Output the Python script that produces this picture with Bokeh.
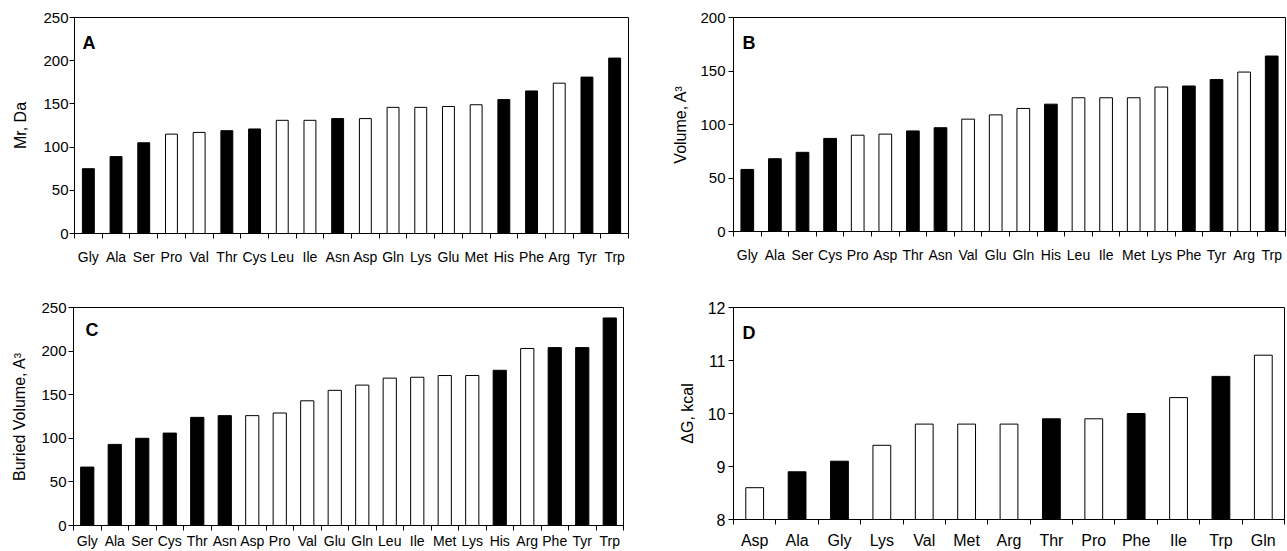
from bokeh.plotting import figure
from bokeh.models import Range1d, FixedTicker, ColumnDataSource, Label
from bokeh.layouts import column, row
from bokeh.embed import file_html
from bokeh.resources import INLINE

FONT = "Liberation Sans"

# Panel A: molecular mass
a_names = ["Gly", "Ala", "Ser", "Pro", "Val", "Thr", "Cys", "Leu", "Ile", "Asn",
           "Asp", "Gln", "Lys", "Glu", "Met", "His", "Phe", "Arg", "Tyr", "Trp"]
a_values = [75, 89, 105, 115, 117, 119, 121, 131, 131, 133,
            133, 146, 146, 147, 149, 155, 165, 174, 181, 203]
a_dark = [1, 1, 1, 0, 0, 1, 1, 0, 0, 1, 0, 0, 0, 0, 0, 1, 1, 0, 1, 1]

# Panel B: volume
b_names = ["Gly", "Ala", "Ser", "Cys", "Pro", "Asp", "Thr", "Asn", "Val", "Glu",
           "Gln", "His", "Leu", "Ile", "Met", "Lys", "Phe", "Tyr", "Arg", "Trp"]
b_values = [58, 68, 74, 87, 90, 91, 94, 97, 105, 109,
            115, 119, 125, 125, 125, 135, 136, 142, 149, 164]
b_dark = [1, 1, 1, 1, 0, 0, 1, 1, 0, 0, 0, 1, 0, 0, 0, 0, 1, 1, 0, 1]

# Panel C: buried volume
c_names = ["Gly", "Ala", "Ser", "Cys", "Thr", "Asn", "Asp", "Pro", "Val", "Glu",
           "Gln", "Leu", "Ile", "Met", "Lys", "His", "Arg", "Phe", "Tyr", "Trp"]
c_values = [67, 93, 100, 106, 124, 126, 126, 129, 143, 155,
            161, 169, 170, 172, 172, 178, 203, 204, 204, 238]
c_dark = [1, 1, 1, 1, 1, 1, 0, 0, 0, 0, 0, 0, 0, 0, 0, 1, 0, 1, 1, 1]

# Panel D: delta G
d_names = ["Asp", "Ala", "Gly", "Lys", "Val", "Met", "Arg", "Thr", "Pro", "Phe",
           "Ile", "Trp", "Gln"]
d_values = [8.6, 8.9, 9.1, 9.4, 9.8, 9.8, 9.8, 9.9, 9.9, 10.0, 10.3, 10.7, 11.1]
d_dark = [0, 1, 1, 0, 0, 0, 0, 1, 0, 1, 0, 1, 0]

a_yticks = [0, 50, 100, 150, 200, 250]
b_yticks = [0, 50, 100, 150, 200]
c_yticks = [0, 50, 100, 150, 200, 250]
d_yticks = [8, 9, 10, 11, 12]


def panel(names, values, dark, yticks, ylabel, letter, letter_pos, bar_w,
          width, height, borders, xfont, yfont, x_standoff, y_standoff,
          label_standoff):
    n = len(names)
    ylo, yhi = yticks[0], yticks[-1]
    p = figure(width=width, height=height,
               x_range=Range1d(0.5, n + 0.5), y_range=Range1d(ylo, yhi),
               output_backend="svg", toolbar_location=None,
               min_border_left=borders[0], min_border_right=borders[1],
               min_border_top=borders[2], min_border_bottom=borders[3])
    p.xgrid.visible = False
    p.ygrid.visible = False
    p.outline_line_color = "black"
    p.outline_line_width = 1
    p.background_fill_color = "white"
    p.border_fill_color = "white"

    src = ColumnDataSource(dict(
        x=list(range(1, n + 1)),
        top=values,
        color=["black" if d else "white" for d in dark],
    ))
    p.vbar(x="x", top="top", bottom=ylo, width=bar_w, fill_color="color",
           line_color="black", line_width=1, source=src)

    xa = p.xaxis[0]
    xa.ticker = FixedTicker(ticks=list(range(1, n + 1)),
                            minor_ticks=[i + 0.5 for i in range(n + 1)])
    xa.major_label_overrides = {i + 1: nm for i, nm in enumerate(names)}
    xa.major_tick_line_color = None
    xa.major_tick_out = 0
    xa.major_tick_in = 0
    xa.minor_tick_line_color = "black"
    xa.minor_tick_out = 5
    xa.minor_tick_in = 0
    xa.axis_line_color = "black"
    xa.major_label_text_font = FONT
    xa.major_label_text_font_size = xfont
    xa.major_label_text_color = "black"
    xa.major_label_standoff = x_standoff

    ya = p.yaxis[0]
    ya.ticker = FixedTicker(ticks=yticks, minor_ticks=[])
    ya.major_tick_line_color = "black"
    ya.major_tick_out = 5
    ya.major_tick_in = 0
    ya.minor_tick_line_color = None
    ya.axis_line_color = "black"
    ya.major_label_text_font = FONT
    ya.major_label_text_font_size = yfont
    ya.major_label_text_color = "black"
    ya.major_label_standoff = y_standoff
    ya.axis_label = ylabel
    ya.axis_label_text_font = FONT
    ya.axis_label_text_font_size = "16px"
    ya.axis_label_text_font_style = "normal"
    ya.axis_label_text_color = "black"
    ya.axis_label_standoff = label_standoff

    p.add_layout(Label(x=letter_pos[0], y=letter_pos[1], text=letter,
                       text_font=FONT, text_font_size="18px",
                       text_font_style="bold", text_color="black",
                       text_align="left", text_baseline="middle"))
    return p


pa = panel(a_names, a_values, a_dark, a_yticks, "Mr, Da", "A", (0.79, 220),
           0.43, 648, 280, (74, 20, 17, 47), "14px", "15px", 10, 1, 11)
pb = panel(b_names, b_values, b_dark, b_yticks, "Volume, A\u00b3", "B", (0.83, 176.6),
           0.46, 639, 280, (85, 2, 17, 49), "14px", "15px", 10, 3, 8)
pc = panel(c_names, c_values, c_dark, c_yticks, "Buried Volume, A\u00b3", "C", (0.94, 223.7),
           0.48, 648, 271, (73, 25, 27, 0), "14px", "15px", 2, 2, 10)
pd = panel(d_names, d_values, d_dark, d_yticks, "\u0394G, kcal", "D", (0.71, 11.51),
           0.42, 639, 271, (85, 3, 27, 32), "16px", "16px", 7, 3, 9)

layout = column(row(column(pa), column(pb)), row(column(pc), column(pd)))

open("out.html", "w").write(file_html(layout, INLINE))
